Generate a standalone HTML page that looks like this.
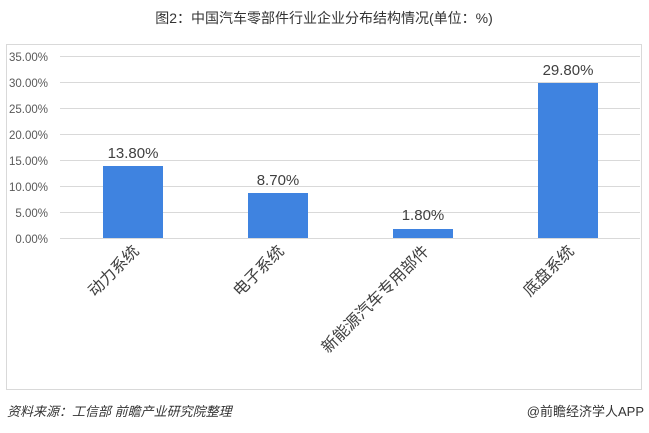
<!DOCTYPE html>
<html><head><meta charset="utf-8"><style>
html,body{margin:0;padding:0;background:#fff;}
svg{display:block;font-family:"Liberation Sans","Noto Sans CJK SC",sans-serif;}
</style></head><body>
<svg width="649" height="433" viewBox="0 0 649 433">
<text x="324" y="23" text-anchor="middle" font-size="14" fill="#333">图2：中国汽车零部件行业企业分布结构情况(单位：%)</text>
<rect x="6.5" y="44.5" width="635" height="345" fill="none" stroke="#d9d9d9"/>
<g stroke="#d9d9d9" stroke-width="1">
<line x1="60" x2="640" y1="56.5" y2="56.5"/>
<line x1="60" x2="640" y1="82.5" y2="82.5"/>
<line x1="60" x2="640" y1="108.5" y2="108.5"/>
<line x1="60" x2="640" y1="134.5" y2="134.5"/>
<line x1="60" x2="640" y1="160.5" y2="160.5"/>
<line x1="60" x2="640" y1="186.5" y2="186.5"/>
<line x1="60" x2="640" y1="212.5" y2="212.5"/>
<line x1="60" x2="640" y1="238.5" y2="238.5"/>
</g>
<g font-size="11.5" fill="#595959" text-anchor="end">
<text x="48" y="61">35.00%</text>
<text x="48" y="87">30.00%</text>
<text x="48" y="113">25.00%</text>
<text x="48" y="139">20.00%</text>
<text x="48" y="165">15.00%</text>
<text x="48" y="191">10.00%</text>
<text x="48" y="217">5.00%</text>
<text x="48" y="243">0.00%</text>
</g>
<g fill="#3f83e0">
<rect x="103" y="166" width="60" height="72"/>
<rect x="248" y="193" width="60" height="45"/>
<rect x="393" y="229" width="60" height="9"/>
<rect x="538" y="83" width="60" height="155"/>
</g>
<g font-size="15" fill="#404040" text-anchor="middle">
<text x="133" y="158">13.80%</text>
<text x="278" y="185">8.70%</text>
<text x="423" y="220">1.80%</text>
<text x="568" y="75">29.80%</text>
</g>
<g font-size="16" fill="#404040" text-anchor="end">
<text transform="translate(140,252) rotate(-45)">动力系统</text>
<text transform="translate(285,252) rotate(-45)">电子系统</text>
<text transform="translate(430,252) rotate(-45)">新能源汽车专用部件</text>
<text transform="translate(575,252) rotate(-45)">底盘系统</text>
</g>
<text x="7" y="416" font-size="13" font-style="italic" fill="#333">资料来源：工信部 前瞻产业研究院整理</text>
<text x="644" y="416" font-size="13" fill="#333" text-anchor="end">@前瞻经济学人APP</text>
</svg>
</body></html>
